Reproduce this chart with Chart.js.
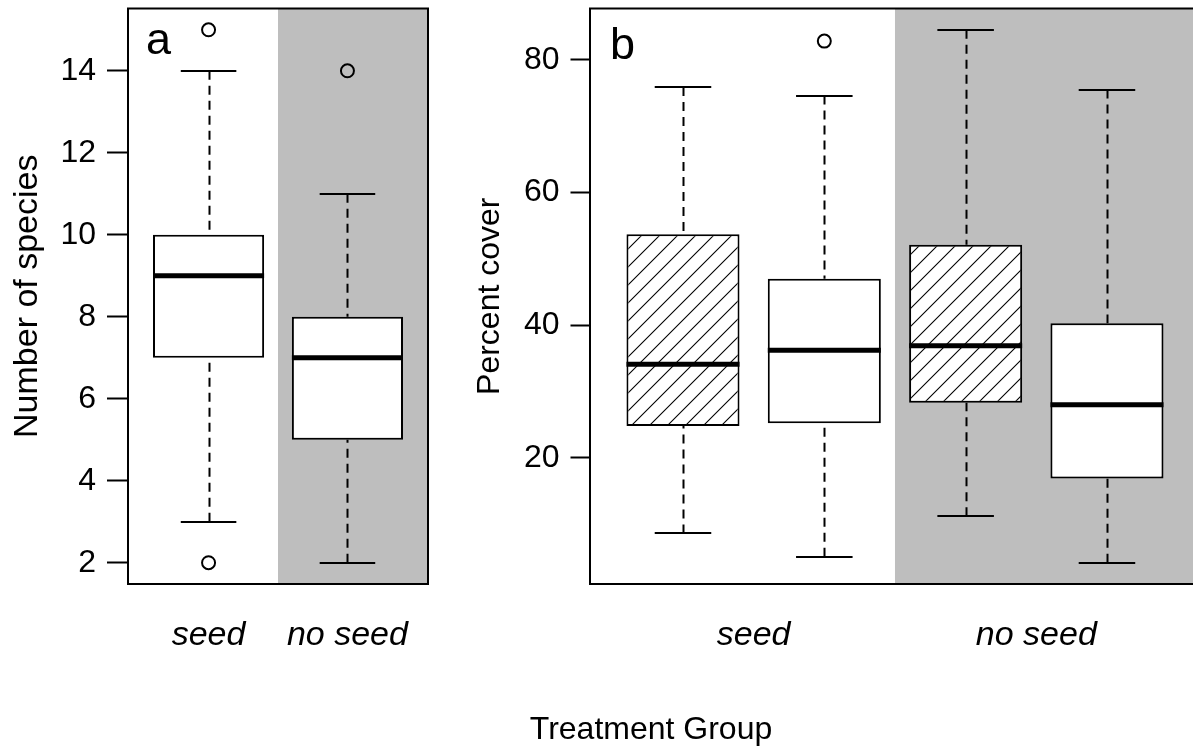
<!DOCTYPE html>
<html><head><meta charset="utf-8">
<script src="https://cdn.jsdelivr.net/npm/chart.js@4/dist/chart.umd.min.js"></script>
<style>
html,body{margin:0;padding:0;background:#fff;}
#wrap{position:relative;width:1193px;height:746px;overflow:hidden;background:#fff;}
#ca{position:absolute;left:0;top:0;}
#cb{position:absolute;left:445px;top:0;}
#xt{position:absolute;left:451px;width:400px;top:709px;text-align:center;font:32px "Liberation Sans",Arial,sans-serif;line-height:38px;color:#000;}
</style></head>
<body>
<div id="wrap">
<canvas id="ca" width="445" height="746"></canvas>
<canvas id="cb" width="770" height="746"></canvas>
<div id="xt">Treatment Group</div>
</div>
<script>
// ---------- Panel a : Number of species ----------
const A_CATS  = ['seed', 'no seed'];
const A_MIN   = [3, 2];
const A_Q1    = [7, 5];
const A_MED   = [9, 7];
const A_Q3    = [10, 8];
const A_MAX   = [14, 11];
const A_OUT_GROUP = [0, 0, 1];      // index of the box each outlier belongs to
const A_OUT_VAL   = [15, 2, 14];
const A_TICKS = [2, 4, 6, 8, 10, 12, 14];

// ---------- Panel b : Percent cover ----------
const B_GROUPS = ['seed', 'no seed'];
const B_BOX_GROUP = [0, 0, 1, 1];
const B_BOX_HATCH = [true, false, true, false];
const B_MIN   = [8.6, 5.1, 11.2, 4.2];
const B_Q1    = [24.8, 25.2, 28.3, 16.9];
const B_MED   = [34.1, 36.2, 36.9, 28.0];
const B_Q3    = [53.7, 47.0, 52.1, 40.3];
const B_MAX   = [75.9, 74.6, 84.5, 75.5];
const B_OUT_GROUP = [1];
const B_OUT_VAL   = [82.8];
const B_TICKS = [20, 40, 60, 80];

const FONT = '"Liberation Sans", Arial, sans-serif';
Chart.defaults.font.family = FONT;
Chart.defaults.color = '#000';

function hatchPattern(ctx) {
  const s = 18;
  const c = document.createElement('canvas');
  c.width = s; c.height = s;
  const g = c.getContext('2d');
  g.fillStyle = '#fff'; g.fillRect(0, 0, s, s);
  g.strokeStyle = '#000'; g.lineWidth = 1.1;
  g.beginPath();
  g.moveTo(-2, s + 2); g.lineTo(s + 2, -2);
  g.moveTo(-2, 2); g.lineTo(2, -2);
  g.moveTo(s - 2, s + 2); g.lineTo(s + 2, s - 2);
  g.stroke();
  return ctx.createPattern(c, 'repeat');
}

function rExtent(lo, hi) { const d = (hi - lo) * 0.04; return [lo - d, hi + d]; }

const boxExtras = {
  id: 'boxExtras',
  beforeDatasetsDraw(chart, args, o) {
    const {ctx, chartArea: ca, scales: {x, y}} = chart;
    ctx.save();
    const sx = x.getPixelForValue(o.shadeFrom);
    ctx.fillStyle = '#BEBEBE';
    ctx.fillRect(sx, ca.top, ca.right - sx, ca.bottom - ca.top);
    ctx.strokeStyle = '#000';
    ctx.lineWidth = 2;
    o.pos.forEach((p, i) => {
      const px = Math.round(x.getPixelForValue(p)) + 0.5;
      ctx.setLineDash([9, 6]);
      ctx.beginPath();
      ctx.moveTo(px, y.getPixelForValue(o.max[i])); ctx.lineTo(px, y.getPixelForValue(o.q3[i]));
      ctx.moveTo(px, y.getPixelForValue(o.min[i])); ctx.lineTo(px, y.getPixelForValue(o.q1[i]));
      ctx.stroke();
      ctx.setLineDash([]);
      const l = x.getPixelForValue(p - o.capHalf), r = x.getPixelForValue(p + o.capHalf);
      ctx.beginPath();
      const yt = Math.round(y.getPixelForValue(o.max[i])), yb = Math.round(y.getPixelForValue(o.min[i]));
      ctx.moveTo(l, yt); ctx.lineTo(r, yt);
      ctx.moveTo(l, yb); ctx.lineTo(r, yb);
      ctx.stroke();
    });
    ctx.restore();
  },
  afterDatasetsDraw(chart, args, o) {
    const {ctx, chartArea: ca, scales: {x, y}} = chart;
    ctx.save();
    ctx.strokeStyle = '#000';
    ctx.lineWidth = 5;
    o.pos.forEach((p, i) => {
      const l = x.getPixelForValue(p - o.boxHalf), r = x.getPixelForValue(p + o.boxHalf);
      const ym = y.getPixelForValue(o.med[i]);
      ctx.beginPath(); ctx.moveTo(l, ym); ctx.lineTo(r, ym); ctx.stroke();
    });
    ctx.lineWidth = 2;
    ctx.strokeRect(ca.left, ca.top, ca.right - ca.left, ca.bottom - ca.top);
    ctx.fillStyle = '#000';
    ctx.font = '45px ' + FONT;
    ctx.textBaseline = 'alphabetic';
    ctx.textAlign = 'left';
    ctx.fillText(o.letter, ca.left + o.letterDx, ca.top + o.letterDy);
    ctx.restore();
  }
};

function makePanel(id, cfg) {
  const canvas = document.getElementById(id);
  const ctx = canvas.getContext('2d');
  const pat = hatchPattern(ctx);
  const pos = cfg.q1.map((v, i) => i + 1);
  const boxData = pos.map((p, i) => ({x: p, y: [cfg.q1[i], cfg.q3[i]]}));
  const outData = cfg.outGroup.map((g, k) => ({x: pos[g], y: cfg.outVal[k]}));
  const [ymin, ymax] = rExtent(Math.min(...cfg.min, ...cfg.outVal), Math.max(...cfg.max, ...cfg.outVal));
  const fills = cfg.hatch.map(h => h ? pat : '#fff');
  const labelPos = cfg.labels.map((_, g) => {
    const ps = pos.filter((p, i) => cfg.groupOf[i] === g);
    return ps.reduce((a, b) => a + b, 0) / ps.length;
  });
  return new Chart(ctx, {
    data: {
      datasets: [
        {type: 'bar', data: boxData, backgroundColor: fills, borderColor: '#000', borderWidth: 2,
         borderSkipped: false, categoryPercentage: 0.8, barPercentage: 1.0, order: 1},
        {type: 'scatter', data: outData, pointStyle: 'circle', pointRadius: 6.5, pointBorderWidth: 2,
         pointBorderColor: '#000', pointBackgroundColor: 'rgba(0,0,0,0)', order: 0}
      ]
    },
    options: {
      responsive: false, animation: false, devicePixelRatio: 1,
      layout: {padding: {left: 0, right: cfg.padRight, top: 7, bottom: 0}},
      plugins: {
        legend: {display: false}, tooltip: {enabled: false},
        boxExtras: {pos, min: cfg.min, q1: cfg.q1, med: cfg.med, q3: cfg.q3, max: cfg.max,
                    shadeFrom: cfg.shadeFrom, capHalf: 0.2, boxHalf: 0.4,
                    letter: cfg.letter, letterDx: cfg.letterDx, letterDy: cfg.letterDy}
      },
      scales: {
        x: {
          type: 'linear', min: cfg.xmin, max: cfg.xmax, offset: false,
          grid: {display: false}, border: {display: false},
          afterBuildTicks: s => { s.ticks = labelPos.map(v => ({value: v})); },
          ticks: {callback: (v, i) => cfg.labels[i], font: {size: 34, style: 'italic'}, padding: 23,
                  maxRotation: 0, autoSkip: false},
          afterFit: s => { s.height = 162; s.paddingLeft = 0; s.paddingRight = 0; }
        },
        y: {
          type: 'linear', min: ymin, max: ymax,
          grid: {drawOnChartArea: false, drawTicks: true, tickLength: cfg.tickLen, tickWidth: 2, tickColor: '#000'},
          border: {display: false},
          afterBuildTicks: s => { s.ticks = cfg.ticks.map(v => ({value: v})); },
          ticks: {font: {size: 32}, padding: 11},
          title: {display: true, text: cfg.ytitle, font: {size: cfg.titleSize}, padding: {top: cfg.titlePad}},
          afterFit: s => { s.width = cfg.axisW; s.paddingTop = 0; s.paddingBottom = 0; }
        }
      }
    },
    plugins: [boxExtras]
  });
}

makePanel('ca', {
  labels: A_CATS, groupOf: [0, 1], hatch: [false, false],
  min: A_MIN, q1: A_Q1, med: A_MED, q3: A_Q3, max: A_MAX,
  outGroup: A_OUT_GROUP, outVal: A_OUT_VAL, ticks: A_TICKS,
  xmin: 0.42, xmax: 2.58, shadeFrom: 1.5,
  axisW: 128, padRight: 445 - 428, titlePad: 7, titleSize: 34, tickLen: 21,
  ytitle: 'Number of species', letter: 'a', letterDx: 18, letterDy: 45
});

makePanel('cb', {
  labels: B_GROUPS, groupOf: B_BOX_GROUP, hatch: B_BOX_HATCH,
  min: B_MIN, q1: B_Q1, med: B_MED, q3: B_Q3, max: B_MAX,
  outGroup: B_OUT_GROUP, outVal: B_OUT_VAL, ticks: B_TICKS,
  xmin: 0.342, xmax: 4.63, shadeFrom: 2.5,
  axisW: 145, padRight: 19, titlePad: 26, titleSize: 32, tickLen: 19.5,
  ytitle: 'Percent cover', letter: 'b', letterDx: 20, letterDy: 50
});
</script>
</body></html>
